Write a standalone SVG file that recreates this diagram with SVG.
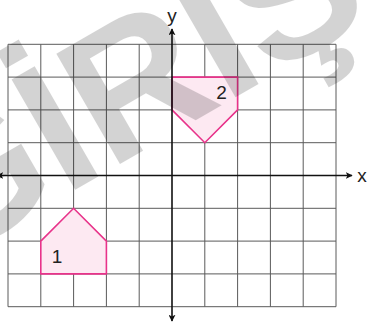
<svg xmlns="http://www.w3.org/2000/svg" width="367" height="327" viewBox="0 0 367 327">
<defs>
<style>
.grid{stroke:#5a5a5a;stroke-width:1;fill:none}
.axis{stroke:#111;stroke-width:1.6;fill:none}
.shape{fill:#fde9f2;stroke:#e8338a;stroke-width:1.6;stroke-linejoin:miter}
.lbl{font-family:"Liberation Sans",Arial,sans-serif;font-size:19px;fill:#222}
.wm{font-family:"Liberation Sans",Arial,sans-serif;font-weight:bold;font-size:185px;fill:#000;opacity:0.17}
</style>
<marker id="ah" viewBox="0 0 10 10" refX="9" refY="5" markerWidth="7" markerHeight="7" orient="auto" markerUnits="userSpaceOnUse">
<path d="M0,0 L10,5 L0,10 L2.5,5 Z" fill="#111"/>
</marker>
</defs>
<rect width="367" height="327" fill="#fff"/>
<g id="grid" class="grid">
<path d="M8,44.3V306.7M40.8,44.3V306.7M73.6,44.3V306.7M106.4,44.3V306.7M139.2,44.3V306.7M204.8,44.3V306.7M237.6,44.3V306.7M270.4,44.3V306.7M303.2,44.3V306.7M336,44.3V306.7"/>
<path d="M8,44.3H336M8,77.1H336M8,109.9H336M8,142.7H336M8,208.3H336M8,241.1H336M8,273.9H336M8,306.7H336"/>
</g>
<g id="shape1">
<polygon class="shape" points="40.8,241.1 73.6,208.3 106.4,241.1 106.4,273.9 40.8,273.9"/>
<text class="lbl" x="57" y="263" text-anchor="middle">1</text>
</g>
<g id="shape2">
<polygon class="shape" points="172,77.1 237.6,77.1 237.6,109.9 204.8,142.7 172,109.9"/>
<text class="lbl" x="221.5" y="99" text-anchor="middle">2</text>
</g>
<g id="connectors">
<line class="axis" x1="172" y1="175.5" x2="172" y2="29" marker-end="url(#ah)"/>
<line class="axis" x1="172" y1="175.5" x2="172" y2="321" marker-end="url(#ah)"/>
<line class="axis" x1="172" y1="175.5" x2="352" y2="175.5" marker-end="url(#ah)"/>
<line class="axis" x1="172" y1="175.5" x2="-3" y2="175.5" marker-end="url(#ah)"/>
</g>
<g id="labels">
<text class="lbl" x="172" y="22" text-anchor="middle" font-size="21">y</text>
<text class="lbl" x="362" y="182" text-anchor="middle" font-size="21">x</text>
</g>
<g id="watermark">
<text class="wm" x="0" y="0" transform="translate(-60,268) rotate(-30)">GİRİŞ</text>
</g>
</svg>
